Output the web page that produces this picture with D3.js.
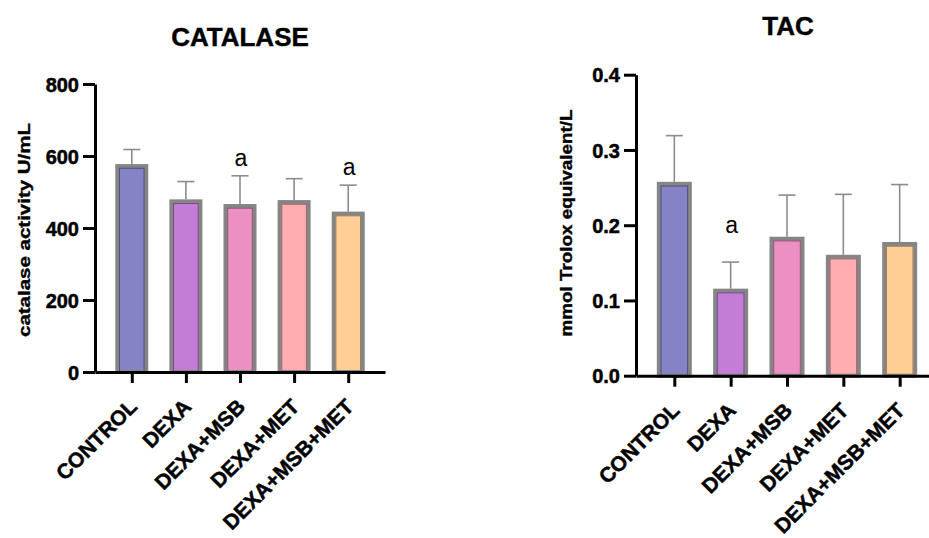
<!DOCTYPE html>
<html>
<head>
<meta charset="utf-8">
<script src="https://cdn.jsdelivr.net/npm/d3@7"></script>
<style>
  body { margin: 0; background: #fff; }
  svg { display: block; font-family: "Liberation Sans", Arial, sans-serif; }
  .axis path, .axis line { stroke: #000; }
  .axis text { fill: #000; font-weight: bold; stroke: #000; stroke-width: 0.5; }
</style>
</head>
<body>
<svg id="chart"></svg>
<script>
// groups on the x axis
const categories = ['CONTROL', 'DEXA', 'DEXA+MSB', 'DEXA+MET', 'DEXA+MSB+MET'];
const barColors = ['#8383c6', '#c47dd6', '#ec90c4', '#ffadb0', '#ffce94'];

// catalase panel (mean, SD, significance letter)
const catalaseMeans = [572, 474, 461, 472, 440];
const catalaseSD = [46, 55, 84, 65, 79];
const catalaseSig = ['', '', 'a', '', 'a'];
const catalaseTicks = [0, 200, 400, 600, 800];

// TAC panel
const tacMeans = [0.255, 0.113, 0.182, 0.158, 0.175];
const tacSD = [0.064, 0.038, 0.058, 0.083, 0.079];
const tacSig = ['', 'a', '', '', ''];
const tacTicks = [0, 0.1, 0.2, 0.3, 0.4];

class BarChart {
    constructor(_config, _data) {
        this.config = {
            svg: _config.svg,
            title: _config.title,
            titleX: _config.titleX,
            titleY: _config.titleY,
            yLabel: _config.yLabel,
            yLabelX: _config.yLabelX,
            yLabelY: _config.yLabelY,
            yLabelLength: _config.yLabelLength,
            left: _config.left,
            right: _config.right,
            top: _config.top,
            bottom: _config.bottom,
            ticks: _config.ticks,
            tickFormat: _config.tickFormat,
            barWidth: _config.barWidth,
            sigOffset: _config.sigOffset
        };
        this.data = _data;
        this.initVis();
    }

    initVis() {
        let vis = this;
        const c = vis.config;

        vis.xScale = d3.scalePoint()
            .domain(categories)
            .range([c.left, c.right])
            .padding(0.68);

        vis.yScale = d3.scaleLinear()
            .domain(d3.extent(c.ticks))
            .range([c.bottom, c.top]);

        vis.g = c.svg.append('g');

        vis.renderVis();
    }

    renderVis() {
        let vis = this;
        const c = vis.config;
        const bw = c.barWidth;

        // bars: light grey outline with a darker inner edge
        const bars = vis.g.selectAll('.bar')
            .data(vis.data)
          .join('g')
            .attr('class', 'bar');

        bars.append('rect')
            .attr('x', d => vis.xScale(d.name) - bw / 2)
            .attr('y', d => vis.yScale(d.mean))
            .attr('width', bw)
            .attr('height', d => vis.yScale(0) - vis.yScale(d.mean))
            .attr('fill', d => d.color)
            .attr('stroke', '#858585')
            .attr('stroke-width', 4);

        bars.append('rect')
            .attr('x', d => vis.xScale(d.name) - bw / 2 + 2.2)
            .attr('y', d => vis.yScale(d.mean) + 2.2)
            .attr('width', bw - 4.4)
            .attr('height', d => vis.yScale(0) - vis.yScale(d.mean) - 2.2)
            .attr('fill', 'none')
            .attr('stroke', d => d3.color(d.color).darker(1.4))
            .attr('stroke-width', 1);

        // upper error bars
        bars.append('line')
            .attr('x1', d => vis.xScale(d.name))
            .attr('x2', d => vis.xScale(d.name))
            .attr('y1', d => vis.yScale(d.mean) - 2)
            .attr('y2', d => vis.yScale(d.mean + d.sd))
            .attr('stroke', '#8c8c8c')
            .attr('stroke-width', 1.6);

        bars.append('line')
            .attr('x1', d => vis.xScale(d.name) - 8.5)
            .attr('x2', d => vis.xScale(d.name) + 8.5)
            .attr('y1', d => vis.yScale(d.mean + d.sd))
            .attr('y2', d => vis.yScale(d.mean + d.sd))
            .attr('stroke', '#8c8c8c')
            .attr('stroke-width', 1.6);

        // significance letters
        bars.filter(d => d.sig)
          .append('text')
            .attr('x', d => vis.xScale(d.name) + 1)
            .attr('y', d => vis.yScale(d.mean + d.sd) - c.sigOffset)
            .attr('text-anchor', 'middle')
            .attr('font-size', 23)
            .text(d => d.sig);

        // axes
        vis.yAxis = d3.axisLeft(vis.yScale)
            .tickValues(c.ticks)
            .tickSize(12)
            .tickSizeOuter(0)
            .tickPadding(4)
            .tickFormat(c.tickFormat);

        vis.xAxis = d3.axisBottom(vis.xScale)
            .tickSize(11)
            .tickSizeOuter(0);

        vis.xAxisG = vis.g.append('g')
            .attr('class', 'axis x-axis')
            .attr('transform', `translate(0,${c.bottom})`)
            .call(vis.xAxis);

        vis.xAxisG.selectAll('path, line').attr('stroke-width', 3);
        vis.xAxisG.selectAll('text')
            .attr('y', 0)
            .attr('dy', null)
            .attr('text-anchor', 'end')
            .attr('font-size', 21)
            .attr('transform', 'translate(6,36) rotate(-45)');

        vis.yAxisG = vis.g.append('g')
            .attr('class', 'axis y-axis')
            .attr('transform', `translate(${c.left},0)`)
            .call(vis.yAxis);

        vis.yAxisG.selectAll('path, line').attr('stroke-width', 3);
        vis.yAxisG.selectAll('text')
            .attr('font-size', 20)
            .attr('dy', '0.36em');

        // title and y label
        vis.g.append('text')
            .attr('x', c.titleX)
            .attr('y', c.titleY)
            .attr('text-anchor', 'middle')
            .attr('font-size', 26)
            .attr('font-weight', 'bold')
            .attr('stroke', '#000')
            .attr('stroke-width', 0.4)
            .text(c.title);

        vis.g.append('text')
            .attr('transform', `translate(${c.yLabelX},${c.yLabelY}) rotate(-90)`)
            .attr('text-anchor', 'middle')
            .attr('font-size', 16)
            .attr('font-weight', 'bold')
            .attr('stroke', '#000')
            .attr('stroke-width', 0.35)
            .attr('textLength', c.yLabelLength)
            .attr('lengthAdjust', 'spacingAndGlyphs')
            .text(c.yLabel);
    }
}

const svg = d3.select('#chart')
    .attr('width', 929)
    .attr('height', 538);

const rows = (means, sds, sigs) => categories.map((name, i) => ({
    name: name, mean: means[i], sd: sds[i], sig: sigs[i], color: barColors[i]
}));

new BarChart({
    svg: svg,
    title: 'CATALASE',
    titleX: 240, titleY: 46,
    yLabel: 'catalase activity U/mL',
    yLabelX: 30, yLabelY: 230, yLabelLength: 214,
    left: 95, right: 385, top: 84, bottom: 372,
    ticks: catalaseTicks,
    tickFormat: d3.format('d'),
    barWidth: 29,
    sigOffset: 10
}, rows(catalaseMeans, catalaseSD, catalaseSig));

new BarChart({
    svg: svg,
    title: 'TAC',
    titleX: 788, titleY: 35,
    yLabel: 'mmol Trolox equivalent/L',
    yLabelX: 572, yLabelY: 223, yLabelLength: 227,
    left: 636, right: 938, top: 74.7, bottom: 375.7,
    ticks: tacTicks,
    tickFormat: d3.format('.1f'),
    barWidth: 31,
    sigOffset: 29
}, rows(tacMeans, tacSD, tacSig));
</script>
</body>
</html>
